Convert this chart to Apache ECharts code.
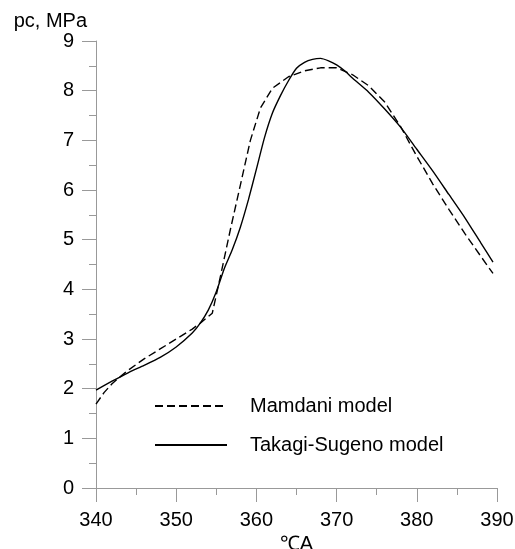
<!DOCTYPE html>
<html>
<head>
<meta charset="utf-8">
<script src="https://cdn.jsdelivr.net/npm/echarts@6/dist/echarts.min.js"></script>
<style>
  html, body { margin: 0; padding: 0; background: #fff; }
  #chart { width: 515px; height: 549px; }
</style>
</head>
<body>
<div id="chart"></div>
<script>
// crank angle (deg) and cylinder pressure (MPa)
var mamdaniCA = [340, 341, 342, 343, 344, 346, 348, 350, 352, 353, 354.5, 355.5, 356.75, 358, 359.25, 360.5, 362, 364, 366, 368, 370, 372, 374, 376, 378, 380, 382, 384, 386, 388, 389.5];
var mamdaniP  = [1.69, 1.92, 2.10, 2.24, 2.37, 2.60, 2.80, 3.00, 3.20, 3.32, 3.52, 4.25, 5.20, 6.10, 7.00, 7.65, 8.05, 8.28, 8.40, 8.46, 8.46, 8.32, 8.10, 7.77, 7.27, 6.68, 6.12, 5.61, 5.12, 4.66, 4.32];

var takagiCA = [340, 342, 344, 346, 348, 350, 352, 353, 354, 355, 356, 357, 358, 359, 360, 361, 362, 363, 364, 365, 366, 367, 368, 369, 370, 371, 372, 374, 376, 378, 380, 382, 384, 386, 388, 389.5];
var takagiP  = [1.97, 2.15, 2.32, 2.47, 2.63, 2.84, 3.12, 3.32, 3.58, 3.95, 4.42, 4.80, 5.25, 5.80, 6.42, 7.05, 7.55, 7.90, 8.20, 8.45, 8.57, 8.63, 8.65, 8.60, 8.52, 8.40, 8.25, 7.97, 7.63, 7.26, 6.82, 6.38, 5.91, 5.44, 4.93, 4.55];

var seriesNames = ['Mamdani model', 'Takagi-Sugeno model'];

function pairs(xs, ys) {
  return xs.map(function (x, i) { return [x, ys[i]]; });
}

var font = 'Liberation Sans, Arial, Helvetica, sans-serif';
var axisGray = '#999999';

var chart = echarts.init(document.getElementById('chart'));
var option = {
  animation: false,
  grid: { left: 96, right: 18, top: 41, bottom: 61, outerBoundsMode: 'none' },
  legend: {
    orient: 'vertical',
    left: 149,
    top: 391,
    itemWidth: 72,
    itemHeight: 14,
    itemGap: 19,
    data: seriesNames,
    itemStyle: { opacity: 0 },
    textStyle: { fontFamily: font, fontSize: 20, color: '#000', padding: [0, 0, 0, 18] }
  },
  xAxis: {
    type: 'value',
    min: 340,
    max: 390,
    interval: 10,
    name: '℃A',
    nameLocation: 'middle',
    nameGap: 44,
    nameTextStyle: { fontFamily: font, fontSize: 20, color: '#000' },
    axisLine: { lineStyle: { color: axisGray, width: 1 } },
    axisTick: { length: 14, lineStyle: { color: axisGray } },
    minorTick: { show: true, splitNumber: 2, length: 7, lineStyle: { color: axisGray } },
    axisLabel: { fontFamily: font, fontSize: 20, color: '#000', margin: 22 },
    splitLine: { show: false }
  },
  yAxis: {
    type: 'value',
    min: 0,
    max: 9,
    interval: 1,
    name: 'pc, MPa',
    nameLocation: 'end',
    nameGap: 5,
    nameTextStyle: { fontFamily: font, fontSize: 20, color: '#000', align: 'right', padding: [0, 9, 0, 0] },
    axisLine: { show: true, lineStyle: { color: axisGray, width: 1 } },
    axisTick: { show: true, length: 14, lineStyle: { color: axisGray } },
    minorTick: { show: true, splitNumber: 2, length: 7, lineStyle: { color: axisGray } },
    axisLabel: { fontFamily: font, fontSize: 20, color: '#000', margin: 22 },
    splitLine: { show: false }
  },
  series: [
    {
      name: seriesNames[0],
      type: 'line',
      symbol: 'none',
      data: pairs(mamdaniCA, mamdaniP),
      lineStyle: { color: '#000', width: 1.4, type: [8, 4] },
      itemStyle: { color: '#000' }
    },
    {
      name: seriesNames[1],
      type: 'line',
      symbol: 'none',
      smooth: 0.2,
      data: pairs(takagiCA, takagiP),
      lineStyle: { color: '#000', width: 1.4 },
      itemStyle: { color: '#000' }
    }
  ]
};
chart.setOption(option);
</script>
</body>
</html>
